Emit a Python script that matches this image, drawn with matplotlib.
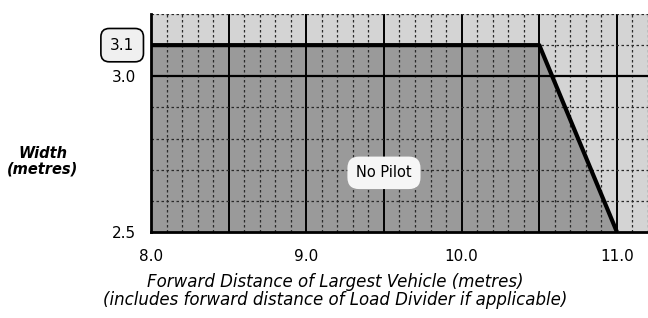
import matplotlib
matplotlib.use("Agg")
import matplotlib.pyplot as plt
import numpy as np

# Data
boundary_x = [8.0, 10.5, 11.0]
boundary_y = [3.1, 3.1, 2.5]
x_ticks = [8.0, 9.0, 10.0, 11.0]
x_ticklabels = ["8.0", "9.0", "10.0", "11.0"]
y_ticks = [2.5, 3.0]
y_ticklabels = ["2.5", "3.0"]
x_limits = (8.0, 11.2)
y_limits = (2.5, 3.2)
region_label = "No Pilot"
highlight_value = "3.1"

fig = plt.figure(figsize=(6.48, 3.18), dpi=100)
ax = fig.add_axes([151/648, 1 - 232/318, 1 - 151/648, (232 - 14)/318])
ax.set_xlim(*x_limits)
ax.set_ylim(*y_limits)
ax.set_facecolor("#d4d4d4")

# dark region under the boundary
poly_x = [boundary_x[0]] + boundary_x + [boundary_x[-1]]
poly_y = [y_limits[0]] + boundary_y + [y_limits[0]]
ax.fill(poly_x, poly_y, color="#9a9a9a", zorder=1, lw=0)

# grid
minor_x = np.arange(8.0, 11.21, 0.1)
for xv in minor_x:
    if abs(round(xv * 2) - xv * 2) < 1e-6:
        ax.axvline(xv, color="black", lw=1.4, zorder=2)
    else:
        ax.axvline(xv, color="#2a2a2a", lw=0.9, ls=(0, (2, 2)), zorder=2)
for yv in np.arange(2.6, 3.21, 0.1):
    if abs(yv - 3.0) < 1e-6:
        ax.axhline(yv, color="black", lw=1.6, zorder=2)
    else:
        ax.axhline(yv, color="#2a2a2a", lw=0.9, ls=(0, (2, 2)), zorder=2)

# boundary line
ax.plot(boundary_x, boundary_y, color="black", lw=3, zorder=4, solid_capstyle="butt")

for side in ["top", "right"]:
    ax.spines[side].set_visible(False)
ax.spines["left"].set_linewidth(2)
ax.spines["bottom"].set_linewidth(2)
ax.spines["left"].set_zorder(5)
ax.spines["bottom"].set_zorder(5)

ax.set_xticks(x_ticks)
ax.set_xticklabels(x_ticklabels)
ax.set_yticks(y_ticks)
ax.set_yticklabels(y_ticklabels)
ax.tick_params(axis="x", length=0, labelsize=11, pad=12)
ax.tick_params(axis="y", length=0, labelsize=11, pad=10.5)

# labels
ax.text(9.5, 2.69, region_label, ha="center", va="center", fontsize=10.5, zorder=6,
        bbox=dict(boxstyle="round,pad=0.6,rounding_size=0.8", fc="#f6f6f6", ec="none"))
ax.text(-0.058, 3.1, highlight_value, transform=ax.get_yaxis_transform(),
        ha="center", va="center", fontsize=11, zorder=6, clip_on=False,
        bbox=dict(boxstyle="round,pad=0.6,rounding_size=0.55", fc="#f0f0f0", ec="black", lw=1.2))

fig.text(43/648, 1 - 161/318, "Width\n(metres)", ha="center", va="center",
         fontsize=10.5, fontweight="bold", fontstyle="italic", linespacing=1.05)
fig.text(335/648, 1 - 282/318, "Forward Distance of Largest Vehicle (metres)",
         ha="center", va="center", fontsize=12, fontstyle="italic")
fig.text(335/648, 1 - 300/318, "(includes forward distance of Load Divider if applicable)",
         ha="center", va="center", fontsize=12, fontstyle="italic")

fig.savefig("out.png", dpi=100)
